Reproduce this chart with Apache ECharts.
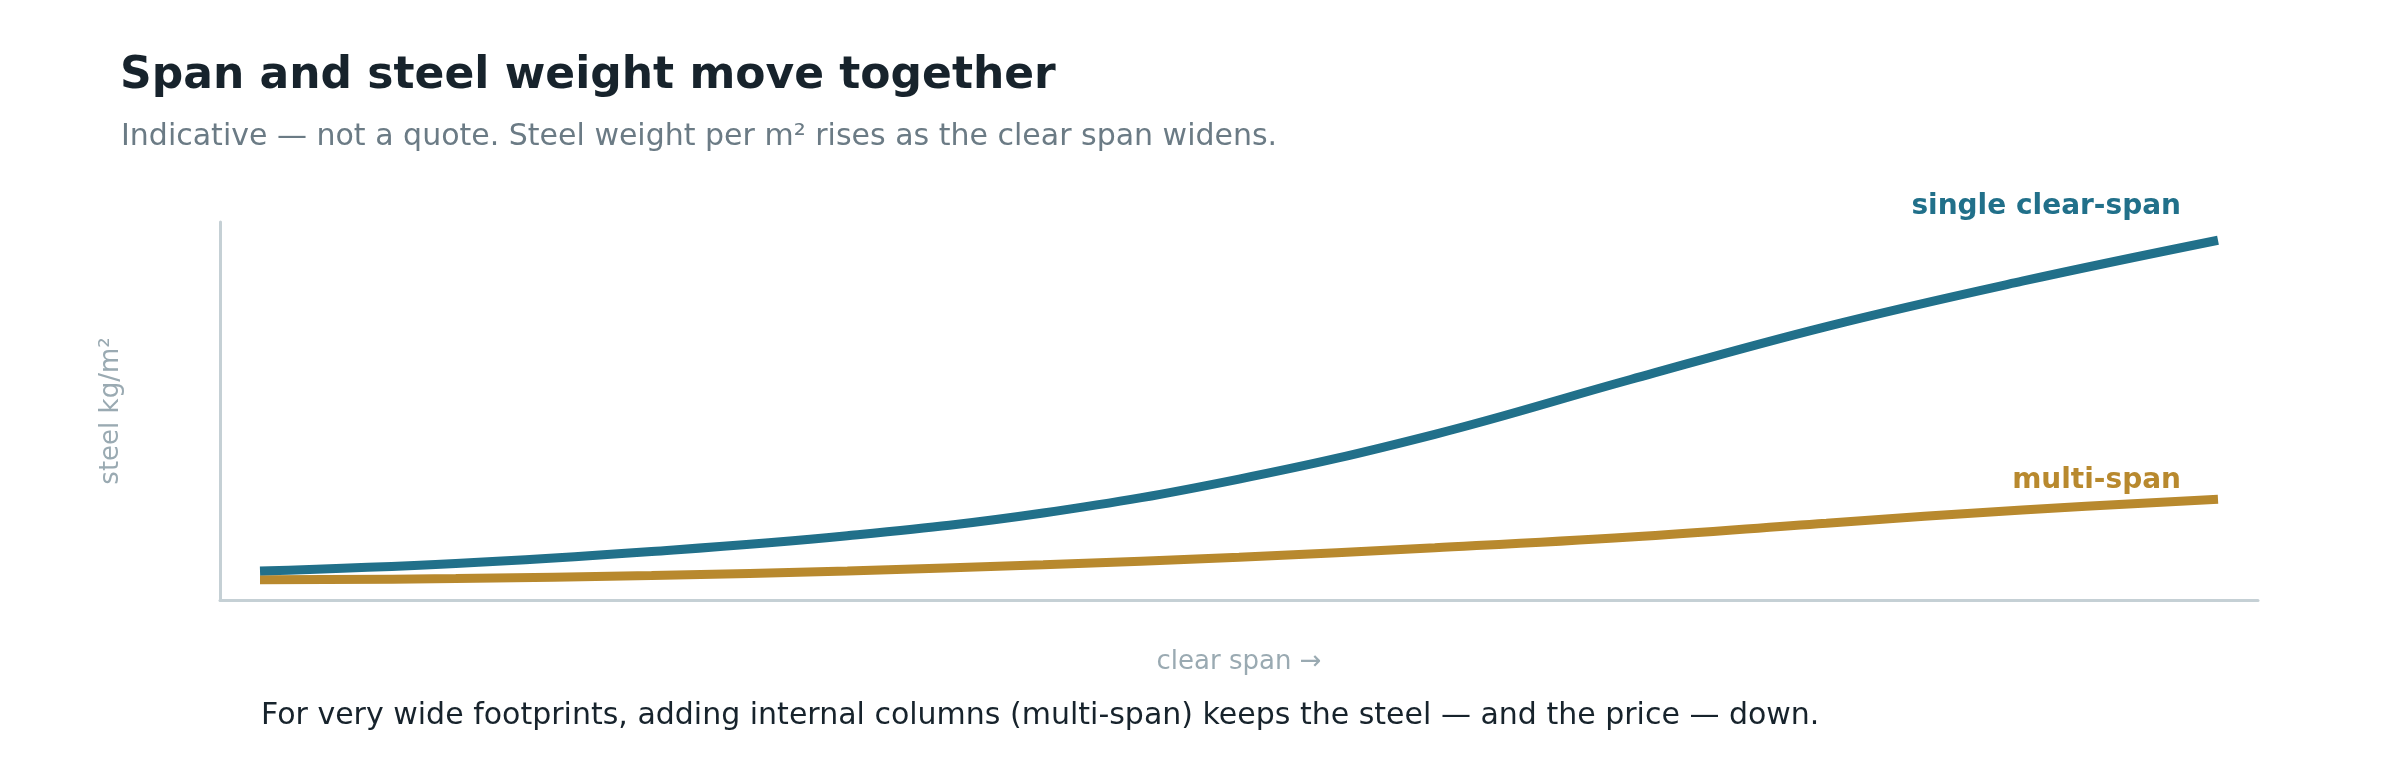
<!DOCTYPE html>
<html>
<head>
<meta charset="utf-8">
<title>Span and steel weight</title>
<script src="https://cdn.jsdelivr.net/npm/echarts@6/dist/echarts.min.js"></script>
<style>
  html, body { margin: 0; padding: 0; background: #fff; }
  #chart { width: 2400px; height: 760px; }
</style>
</head>
<body>
<div id="chart"></div>
<script>
// clear span (m) and indicative steel weight (kg/m2)
var spans       = [10, 15, 20, 25, 30, 35, 40, 45, 50, 55, 60];
var singleSpan  = [4.6, 5.8, 7.7, 10.2, 13.8, 19.2, 26.3, 35.0, 43.4, 50.6, 57.1];
var multiSpan   = [3.2, 3.4, 3.9, 4.6, 5.6, 6.8, 8.3, 10.0, 12.2, 14.3, 16.0];

var FONT = '"DejaVu Sans", Verdana, sans-serif';
var TEAL = '#21708a';
var GOLD = '#b8892e';

function pairs(ys, lastLabel) {
  var out = [];
  for (var i = 0; i < spans.length; i++) {
    out.push([spans[i], ys[i]]);
  }
  // last point carries the series label
  var last = out.length - 1;
  out[last] = {
    value: out[last],
    symbol: 'circle',
    symbolSize: 2,
    itemStyle: { color: 'transparent' },
    label: lastLabel
  };
  return out;
}

var chart = echarts.init(document.getElementById('chart'));

var pad = (spans[spans.length - 1] - spans[0]) * 40 / 1958;

var option = {
  backgroundColor: '#fff',
  animation: false,
  title: [
    {
      text: 'Span and steel weight move together',
      left: 115, top: 50,
      textStyle: { fontFamily: FONT, fontSize: 44, fontWeight: 'bold', color: '#17232c' }
    },
    {
      text: 'Indicative — not a quote. Steel weight per m² rises as the clear span widens.',
      left: 116, top: 117,
      textStyle: { fontFamily: FONT, fontSize: 30, fontWeight: 'normal', color: '#6b7b85' }
    },
    {
      text: 'For very wide footprints, adding internal columns (multi-span) keeps the steel — and the price — down.',
      left: 256, top: 696,
      textStyle: { fontFamily: FONT, fontSize: 30, fontWeight: 'normal', color: '#17232c' }
    }
  ],
  grid: { left: 220, right: 142, top: 222, bottom: 160 },
  xAxis: {
    type: 'value',
    min: spans[0] - pad,
    max: spans[spans.length - 1] + pad,
    name: 'clear span →',
    nameLocation: 'middle',
    nameGap: 49,
    nameTextStyle: { fontFamily: FONT, fontSize: 26, color: '#9aaab2' },
    axisLine: { show: true, lineStyle: { color: '#c5d0d5', width: 3 } },
    axisTick: { show: false },
    axisLabel: { show: false },
    splitLine: { show: false }
  },
  yAxis: {
    type: 'value',
    min: 0,
    max: 60,
    name: 'steel kg/m²',
    nameLocation: 'middle',
    nameGap: 96,
    nameTextStyle: { fontFamily: FONT, fontSize: 26, color: '#9aaab2' },
    axisLine: { show: true, lineStyle: { color: '#c5d0d5', width: 3 } },
    axisTick: { show: false },
    axisLabel: { show: false },
    splitLine: { show: false }
  },
  series: [
    {
      name: 'single clear-span',
      type: 'line',
      smooth: 0.4,
      symbol: 'none',
      lineStyle: { color: TEAL, width: 9 },
      data: pairs(singleSpan, {
        show: true,
        formatter: 'single clear-span',
        position: 'top',
        align: 'right',
        verticalAlign: 'middle',
        offset: [-37, -28],
        fontFamily: FONT, fontSize: 28, fontWeight: 'bold', color: TEAL
      }),
      z: 3
    },
    {
      name: 'multi-span',
      type: 'line',
      smooth: 0.4,
      symbol: 'none',
      lineStyle: { color: GOLD, width: 9 },
      data: pairs(multiSpan, {
        show: true,
        formatter: 'multi-span',
        position: 'top',
        align: 'right',
        verticalAlign: 'middle',
        offset: [-37, -12],
        fontFamily: FONT, fontSize: 28, fontWeight: 'bold', color: GOLD
      }),
      z: 2
    }
  ]
};

chart.setOption(option);
</script>
</body>
</html>
